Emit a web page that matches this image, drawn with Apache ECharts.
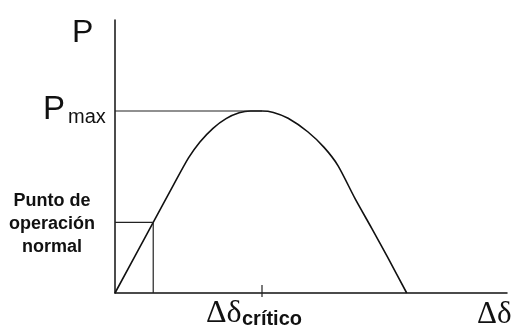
<!DOCTYPE html>
<html>
<head>
<meta charset="utf-8">
<script src="https://cdn.jsdelivr.net/npm/echarts@6/dist/echarts.min.js"></script>
<style>
html,body{margin:0;padding:0;background:#fff;}
#chart{width:519px;height:332px;}
</style>
</head>
<body>
<div id="chart"></div>
<script>
// Curve P(Δδ) (Δδ in degrees, P relative to Pmax)
const deltaDeg = [0, 23.4, 35, 45, 52, 60, 68, 76, 83, 90, 97, 106, 118, 128, 136.5, 146.9, 157.2, 167.3, 178.6];
const power    = [0, 0.388, 0.58, 0.742, 0.83, 0.905, 0.958, 0.99, 1.0, 1.0, 0.992, 0.96, 0.886, 0.80, 0.70, 0.52, 0.355, 0.19, 0];
const opPoint = [23.4, 0.388];   // punto de operación normal
const deltaCritico = 90;
const pMax = 1.0;
const xMax = 240, yMax = 1.5;

const curve = deltaDeg.map((d, i) => [d, power[i]]);
const ink = '#111';

const chart = echarts.init(document.getElementById('chart'), null, {renderer: 'canvas'});
chart.setOption({
  animation: false,
  backgroundColor: '#fff',
  grid: {left: 115, right: 12, top: 20, bottom: 39},
  xAxis: {
    type: 'value', min: 0, max: xMax,
    axisLine: {show: true, lineStyle: {color: ink, width: 1.5}},
    axisTick: {show: false}, axisLabel: {show: false}, splitLine: {show: false}
  },
  yAxis: {
    type: 'value', min: 0, max: yMax,
    axisLine: {show: true, lineStyle: {color: ink, width: 1.5}},
    axisTick: {show: false}, axisLabel: {show: false}, splitLine: {show: false}
  },
  series: [
    {
      type: 'line', data: curve, smooth: 0.25, showSymbol: false,
      lineStyle: {color: ink, width: 1.6}
    },
    {
      type: 'line', data: [[0, pMax], [deltaCritico, pMax]], showSymbol: false,
      lineStyle: {color: '#222', width: 1.2}
    },
    {
      type: 'line', data: [[0, opPoint[1]], [opPoint[0], opPoint[1]], [opPoint[0], 0]], showSymbol: false,
      lineStyle: {color: '#222', width: 1.2}
    },
    {
      type: 'line', data: [[deltaCritico, -0.022], [deltaCritico, 0.044]], showSymbol: false, clip: false,
      lineStyle: {color: '#222', width: 1.2}
    }
  ],
  graphic: [
    {type: 'text', left: 72, top: 17, style: {text: 'P', font: '32px "Liberation Sans", Arial, sans-serif', fill: ink}},
    {type: 'text', left: 43, top: 93, style: {text: 'P', font: '33px "Liberation Sans", Arial, sans-serif', fill: ink}},
    {type: 'text', left: 68, top: 107, style: {text: 'max', font: '20px "Liberation Sans", Arial, sans-serif', fill: ink}},
    {type: 'text', x: 52, y: 190, style: {text: 'Punto de\noperación\nnormal', font: 'bold 18px "Liberation Sans", Arial, sans-serif', fill: ink, align: 'center', lineHeight: 23}},
    {type: 'text', left: 206, top: 298, style: {text: 'Δδ', font: '32px "Liberation Serif", "Times New Roman", serif', fill: ink}},
    {type: 'text', left: 242, top: 309, style: {text: 'crítico', font: 'bold 20px "Liberation Sans", Arial, sans-serif', fill: ink}},
    {type: 'text', left: 477, top: 299, style: {text: 'Δδ', font: '31px "Liberation Serif", "Times New Roman", serif', fill: ink}}
  ]
});
</script>
</body>
</html>
